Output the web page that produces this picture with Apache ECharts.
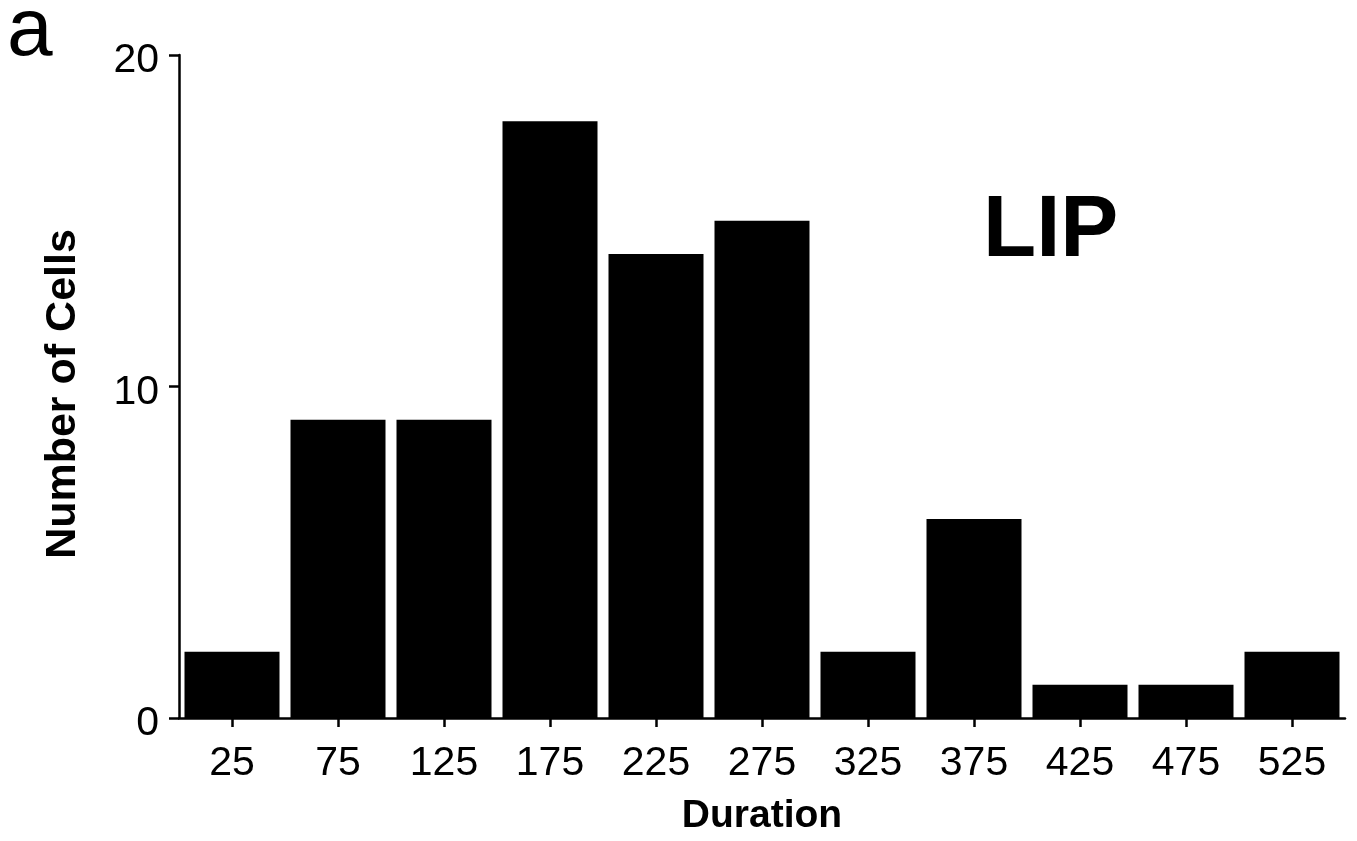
<!DOCTYPE html>
<html>
<head>
<meta charset="utf-8">
<script src="https://cdn.jsdelivr.net/npm/echarts@6/dist/echarts.min.js"></script>
<style>
html,body{margin:0;padding:0;background:#fff;}
#chart{width:1357px;height:841px;}
</style>
</head>
<body>
<div id="chart"></div>
<script>
const categories = ['25','75','125','175','225','275','325','375','425','475','525'];
const cellCounts = [2, 9, 9, 18, 14, 15, 2, 6, 1, 1, 2];
const yTicks = { min: 0, max: 20, interval: 10 };
const panelLabel = 'a';
const areaLabel = 'LIP';
const xTitle = 'Duration';
const yTitle = 'Number of Cells';

const FONT = '"Liberation Sans", Arial, Helvetica, sans-serif';
const chart = echarts.init(document.getElementById('chart'), null, {renderer: 'canvas'});
chart.setOption({
  backgroundColor: '#ffffff',
  animation: false,
  grid: { left: 179, right: 12, top: 55, bottom: 123, containLabel: false },
  xAxis: {
    type: 'category',
    data: categories,
    boundaryGap: true,
    name: xTitle,
    nameLocation: 'middle',
    nameGap: 79,
    nameTextStyle: { fontFamily: FONT, fontWeight: 'bold', fontSize: 39, color: '#000', lineHeight: 39 },
    axisLine: { show: true, lineStyle: { color: '#000', width: 2.5 } },
    axisTick: { show: true, alignWithLabel: true, inside: false, length: 9, lineStyle: { color: '#000', width: 2.5 } },
    axisLabel: { margin: 25, fontFamily: FONT, fontSize: 41, color: '#000', lineHeight: 41 },
    splitLine: { show: false }
  },
  yAxis: {
    type: 'value',
    min: yTicks.min, max: yTicks.max, interval: yTicks.interval,
    axisLine: { show: true, lineStyle: { color: '#000', width: 2.5 } },
    axisTick: { show: true, inside: false, length: 10, lineStyle: { color: '#000', width: 2.5 } },
    axisLabel: { margin: 20, fontFamily: FONT, fontSize: 41, color: '#000', verticalAlign: 'top', lineHeight: 12 },
    splitLine: { show: false }
  },
  series: [{
    type: 'bar',
    data: cellCounts,
    barWidth: 95,
    itemStyle: { color: '#000' },
    silent: true
  }],
  graphic: [
    { type: 'text', x: 7, y: 32, style: { text: panelLabel, font: 'normal 82px ' + FONT, fill: '#000', verticalAlign: 'middle', align: 'left' } },
    { type: 'text', x: 983, y: 232, style: { text: areaLabel, font: 'bold 87px ' + FONT, fill: '#000', verticalAlign: 'middle', align: 'left' } },
    { type: 'text', x: 63, y: 394, rotation: Math.PI / 2, style: { text: yTitle, font: 'bold 43px ' + FONT, fill: '#000', verticalAlign: 'middle', align: 'center' } }
  ]
});
</script>
</body>
</html>
